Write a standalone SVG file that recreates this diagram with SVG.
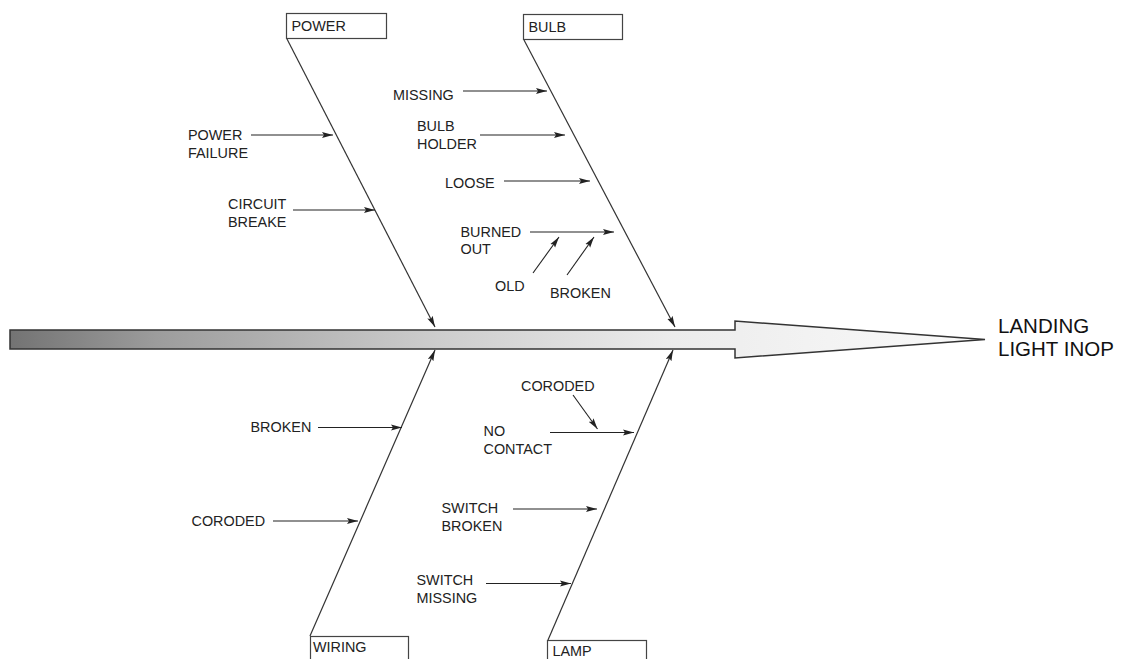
<svg xmlns="http://www.w3.org/2000/svg" width="1131" height="659" viewBox="0 0 1131 659">
<style>
  text { font-family: "Liberation Sans", Arial, sans-serif; font-size: 14.4px; fill: #222; }
  .big { font-size: 20.5px; fill: #111; }
  .box { fill: #fff; stroke: #444; stroke-width: 1.2; }
  .bone { stroke: #333; stroke-width: 1.2; fill: none; marker-end: url(#ah); }
  .cause { stroke: #222; stroke-width: 1.1; fill: none; marker-end: url(#ah); }
</style>
<defs>
  <marker id="ah" markerUnits="userSpaceOnUse" markerWidth="12" markerHeight="8" refX="11" refY="3.5" orient="auto">
    <path d="M0,0.5 L11,3.5 L0,6.5 L2,3.5 z" fill="#222"/>
  </marker>
  <linearGradient id="g" gradientUnits="userSpaceOnUse" x1="10" y1="0" x2="985" y2="0">
    <stop offset="0" stop-color="#737373"/>
    <stop offset="0.15" stop-color="#9c9c9c"/>
    <stop offset="0.44" stop-color="#cdcdcd"/>
    <stop offset="0.68" stop-color="#ececec"/>
    <stop offset="1" stop-color="#fafafa"/>
  </linearGradient>
</defs>

<g id="spine">
  <polygon points="10,330 735,330 735,321 985,339.5 735,358 735,349 10,349" fill="url(#g)" stroke="#333" stroke-width="1.5" stroke-linejoin="miter"/>
</g>
<g id="effect">
  <text class="big" x="998" y="333">LANDING</text>
  <text class="big" x="998" y="356">LIGHT INOP</text>
</g>

<g id="connectors">
  <line class="bone" x1="287" y1="39" x2="435" y2="327"/>
  <line class="bone" x1="524" y1="40" x2="675" y2="327"/>
  <line class="bone" x1="310" y1="636" x2="435" y2="350"/>
  <line class="bone" x1="548" y1="640" x2="673" y2="350"/>

  <line class="cause" x1="251" y1="135" x2="333" y2="135"/>
  <line class="cause" x1="293" y1="210" x2="375" y2="210"/>

  <line class="cause" x1="463" y1="91" x2="547" y2="91"/>
  <line class="cause" x1="480" y1="135" x2="565" y2="135"/>
  <line class="cause" x1="504" y1="181" x2="590" y2="181"/>
  <line class="cause" x1="530" y1="232" x2="614" y2="232"/>
  <line class="cause" x1="533" y1="273" x2="559" y2="237"/>
  <line class="cause" x1="567" y1="275" x2="594" y2="237"/>

  <line class="cause" x1="318" y1="427.5" x2="402" y2="427.5"/>
  <line class="cause" x1="273" y1="521" x2="358" y2="521"/>

  <line class="cause" x1="573" y1="395" x2="597.5" y2="429"/>
  <line class="cause" x1="550" y1="432.5" x2="634" y2="432.5"/>
  <line class="cause" x1="513" y1="509" x2="597" y2="509"/>
  <line class="cause" x1="486" y1="583.5" x2="571" y2="583.5"/>
</g>

<g id="power">
  <rect class="box" x="286.5" y="13.5" width="100" height="25"/>
  <text x="291.5" y="31">POWER</text>
</g>
<g id="bulb">
  <rect class="box" x="523.5" y="14.5" width="99" height="25"/>
  <text x="528.5" y="32">BULB</text>
</g>
<g id="wiring">
  <rect class="box" x="310.5" y="636.5" width="98" height="30"/>
  <text x="313" y="652">WIRING</text>
</g>
<g id="lamp">
  <rect class="box" x="547.5" y="640.5" width="99" height="30"/>
  <text x="552.5" y="655.5">LAMP</text>
</g>

<g id="power-failure"><text x="188" y="140">POWER</text><text x="188" y="158">FAILURE</text></g>
<g id="circuit-breake"><text x="228" y="209">CIRCUIT</text><text x="228" y="227">BREAKE</text></g>

<g id="missing"><text x="393" y="100">MISSING</text></g>
<g id="bulb-holder"><text x="417" y="131">BULB</text><text x="417" y="149">HOLDER</text></g>
<g id="loose"><text x="445" y="188">LOOSE</text></g>
<g id="burned-out"><text x="460.5" y="236.5">BURNED</text><text x="460.5" y="254">OUT</text></g>
<g id="old"><text x="495" y="291">OLD</text></g>
<g id="bulb-broken"><text x="550" y="297.5">BROKEN</text></g>

<g id="wiring-broken"><text x="250.5" y="432">BROKEN</text></g>
<g id="wiring-coroded"><text x="191.5" y="526">CORODED</text></g>

<g id="lamp-coroded"><text x="521" y="390.5">CORODED</text></g>
<g id="no-contact"><text x="483.5" y="436">NO</text><text x="483.5" y="454">CONTACT</text></g>
<g id="switch-broken"><text x="441.5" y="513">SWITCH</text><text x="441.5" y="531">BROKEN</text></g>
<g id="switch-missing"><text x="416.5" y="585">SWITCH</text><text x="416.5" y="602.5">MISSING</text></g>
</svg>
